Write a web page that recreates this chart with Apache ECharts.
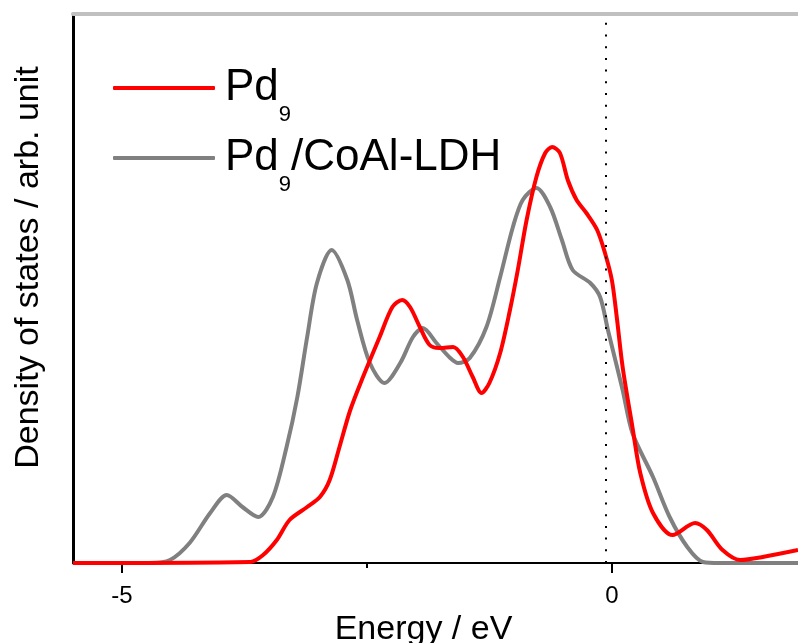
<!DOCTYPE html>
<html>
<head>
<meta charset="utf-8">
<title>DOS Pd9 vs Pd9/CoAl-LDH</title>
<script src="https://cdn.jsdelivr.net/npm/echarts@6/dist/echarts.min.js"></script>
<style>
  html, body { margin: 0; padding: 0; background: #fff; }
  #chart { width: 798px; height: 643px; }
</style>
</head>
<body>
<div id="chart"></div>
<script>
// energy (eV) and density of states (arb. unit)
const energyLdh = [-5.5, -4.71, -4.51, -4.31, -4.10, -3.93, -3.77, -3.61, -3.46, -3.32, -3.21, -3.11, -3.01, -2.86, -2.70, -2.60, -2.47, -2.32, -2.16, -2.03, -1.93, -1.79, -1.65, -1.57, -1.45, -1.28, -1.14, -1.01, -0.91, -0.77, -0.63, -0.51, -0.40, -0.22, -0.12, -0.04, 0.01, 0.11, 0.21, 0.42, 0.59, 0.77, 0.93, 1.10, 1.90];
const dosLdh = [0, 0, 0.03, 0.20, 0.50, 0.68, 0.56, 0.46, 0.66, 1.16, 1.66, 2.26, 2.80, 3.13, 2.83, 2.43, 2.00, 1.80, 2.00, 2.26, 2.35, 2.20, 2.05, 2.00, 2.05, 2.36, 2.86, 3.36, 3.63, 3.75, 3.56, 3.23, 2.93, 2.80, 2.66, 2.33, 2.13, 1.73, 1.30, 0.86, 0.46, 0.16, 0.01, 0, 0];

const energyPd = [-5.5, -3.69, -3.56, -3.42, -3.29, -3.11, -2.98, -2.88, -2.78, -2.67, -2.54, -2.37, -2.24, -2.14, -2.06, -1.96, -1.86, -1.76, -1.62, -1.52, -1.42, -1.33, -1.25, -1.14, -1.04, -0.96, -0.87, -0.77, -0.68, -0.61, -0.53, -0.45, -0.36, -0.26, -0.15, -0.07, 0, 0.05, 0.11, 0.21, 0.29, 0.42, 0.62, 0.85, 0.97, 1.13, 1.31, 1.54, 1.90];
const dosPd = [0, 0.01, 0.08, 0.23, 0.43, 0.56, 0.66, 0.83, 1.16, 1.53, 1.86, 2.26, 2.56, 2.63, 2.56, 2.36, 2.18, 2.15, 2.16, 2.06, 1.86, 1.70, 1.80, 2.10, 2.53, 2.93, 3.43, 3.86, 4.10, 4.16, 4.10, 3.83, 3.63, 3.50, 3.33, 3.10, 2.83, 2.46, 1.96, 1.36, 0.90, 0.50, 0.28, 0.40, 0.33, 0.13, 0.03, 0.06, 0.13];

const labelTicks = [-5, 0];
const minorTicks = [-2.5];
const fermiLevel = -0.06;

function pairs(xs, ys) {
  return xs.map((x, i) => [x, ys[i]]);
}

const font = "'Liberation Sans', Arial, sans-serif";
let myChart = echarts.init(document.getElementById("chart"));

myChart.setOption({
  animation: false,
  grid: { left: 73, right: 0, top: 14, bottom: 80, outerBoundsMode: "none", containLabel: false },
  legend: {
    orient: "vertical",
    left: 113,
    top: 50,
    padding: 0,
    itemGap: -6,
    itemWidth: 102,
    itemHeight: 4,
    icon: "roundRect",
    data: ["Pd9", "Pd9/CoAl-LDH"],
    formatter: (name) => name.replace("9", "{sub|9}"),
    textStyle: {
      fontFamily: font,
      fontSize: 44,
      lineHeight: 44,
      color: "#000",
      padding: [0, 0, 0, 5],
      rich: {
        // subscript 9, pushed down by top padding
        sub: { fontFamily: font, fontSize: 22, lineHeight: 22, padding: [54, 0, 0, 0], color: "#000" },
      },
    },
  },
  xAxis: [
    {
      type: "value",
      min: -5.5,
      max: 1.9,
      interval: 0.5,
      position: "bottom",
      name: "Energy / eV",
      nameLocation: "middle",
      nameGap: 45,
      nameTextStyle: { fontFamily: font, fontSize: 34, color: "#000", padding: [0, 24, 0, 0] },
      axisLine: { onZero: false, lineStyle: { color: "#000", width: 2 } },
      axisTick: { length: 10, lineStyle: { color: "#000", width: 2 }, customValues: labelTicks },
      axisLabel: {
        fontFamily: font,
        fontSize: 24,
        color: "#000",
        margin: 21,
        showMinLabel: false,
        showMaxLabel: false,
        formatter: (v) => (labelTicks.includes(v) ? String(v) : ""),
      },
      splitLine: { show: false },
    },
    {
      // short tick at -2.5
      type: "value",
      min: -5.5,
      max: 1.9,
      position: "bottom",
      axisLine: { show: false, onZero: false },
      axisTick: { length: 5, lineStyle: { color: "#000", width: 2 }, customValues: minorTicks },
      axisLabel: { show: false },
      splitLine: { show: false },
    },
    {
      // grey frame line along the top
      type: "value",
      min: -5.5,
      max: 1.9,
      position: "top",
      axisLine: { onZero: false, lineStyle: { color: "#c0c0c0", width: 4 } },
      axisTick: { show: false },
      axisLabel: { show: false },
      splitLine: { show: false },
    },
  ],
  yAxis: {
    type: "value",
    min: 0,
    max: 5.49,
    position: "left",
    name: "Density of states / arb. unit",
    nameLocation: "middle",
    nameRotate: 90,
    nameGap: 27,
    nameTextStyle: { fontFamily: font, fontSize: 34, color: "#000", padding: [0, 0, 0, 42] },
    axisLine: { show: true, onZero: false, lineStyle: { color: "#000", width: 3 } },
    axisTick: { show: false },
    axisLabel: { show: false },
    splitLine: { show: false },
  },
  series: [
    {
      name: "Pd9/CoAl-LDH",
      type: "line",
      data: pairs(energyLdh, dosLdh),
      showSymbol: false,
      smooth: 0.3,
      lineStyle: { color: "#808080", width: 4 },
      itemStyle: { color: "#808080" },
      markLine: {
        silent: true,
        symbol: "none",
        label: { show: false },
        lineStyle: { color: "#000", width: 2, type: [2, 9.7] },
        data: [{ xAxis: fermiLevel }],
      },
    },
    {
      name: "Pd9",
      type: "line",
      data: pairs(energyPd, dosPd),
      showSymbol: false,
      smooth: 0.3,
      lineStyle: { color: "#ff0000", width: 4 },
      itemStyle: { color: "#ff0000" },
    },
  ],
});

window.addEventListener("resize", () => {
  myChart.resize();
});
</script>
</body>
</html>
